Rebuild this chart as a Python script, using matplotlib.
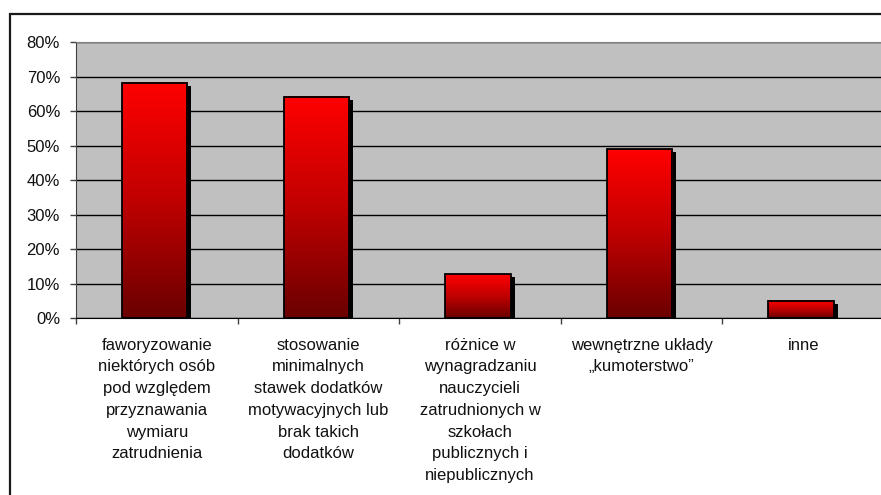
import numpy as np
import matplotlib.pyplot as plt
from matplotlib.colors import LinearSegmentedColormap
from matplotlib.patches import Rectangle
from matplotlib.transforms import offset_copy

plt.rcParams['font.family'] = ['Liberation Sans', 'DejaVu Sans']

# Dane
kategorie = [
    "faworyzowanie\nniektórych osób\npod względem\nprzyznawania\nwymiaru\nzatrudnienia",
    "stosowanie\nminimalnych\nstawek dodatków\nmotywacyjnych lub\nbrak takich\ndodatków",
    "różnice w\nwynagradzaniu\nnauczycieli\nzatrudnionych w\nszkołach\npublicznych i\nniepublicznych",
    "wewnętrzne układy\n„kumoterstwo”",
    "inne",
]
wartosci = [68.2, 64.1, 12.7, 48.9, 5.1]
yticks = [0, 10, 20, 30, 40, 50, 60, 70, 80]

W, H = 881, 495
fig = plt.figure(figsize=(W / 100, H / 100), dpi=100)
ax = fig.add_axes([76 / W, (H - 318.3) / H, (884 - 76) / W, (318.3 - 42) / H])
ax.set_facecolor('#c0c0c0')

x = np.arange(len(wartosci))
szer = 0.405
przes = -0.013

# gradient od ciemnej czerwieni do czerwieni
cmap = LinearSegmentedColormap.from_list('czerw', ['#6a0000', '#c00000', '#ff0000'])
grad = np.linspace(0, 1, 256).reshape(-1, 1)

# cien
cien = offset_copy(ax.transData, fig=fig, x=4, y=-3, units='dots')
ax.bar(x + przes, wartosci, width=szer, color='black', transform=cien, zorder=2)

for xi, v in zip(x, wartosci):
    x0 = xi + przes - szer / 2
    ax.imshow(grad, extent=[x0, x0 + szer, 0, v], origin='lower', aspect='auto',
              cmap=cmap, zorder=3, interpolation='bilinear')

ax.bar(x + przes, wartosci, width=szer, facecolor='none', edgecolor='black',
       linewidth=1.3, zorder=4)

ax.set_xlim(-0.5, 4.5)
ax.set_ylim(0, 80)
ax.set_yticks(yticks)
ax.set_yticklabels([f"{t}%" for t in yticks])
ax.yaxis.grid(True, color='black', linewidth=1)
ax.set_axisbelow(True)

ax.set_xticks(x)
ax.set_xticklabels(kategorie, linespacing=1.56, va='top')
ax.set_xticks(np.arange(-0.5, 5, 1), minor=True)
ax.tick_params(axis='x', which='major', length=0, pad=14, labelsize=12, labelcolor='#111111')
ax.tick_params(axis='x', which='minor', length=4.5, width=1, color='#404040')
ax.tick_params(axis='y', length=4.5, width=1, pad=7, labelsize=12, labelcolor='#111111',
               color='#404040')

ax.spines['top'].set_color('#808080')
ax.spines['left'].set_color('#404040')
ax.spines['bottom'].set_color('black')
ax.spines['right'].set_visible(False)

# ramka wykresu
fig.add_artist(Rectangle((10 / W, -0.1), 1.1, (H - 14) / H + 0.1, transform=fig.transFigure,
                         fill=False, edgecolor='#1a1a1a', linewidth=1.6, clip_on=False))

fig.savefig('out.png', dpi=100, facecolor='white')
